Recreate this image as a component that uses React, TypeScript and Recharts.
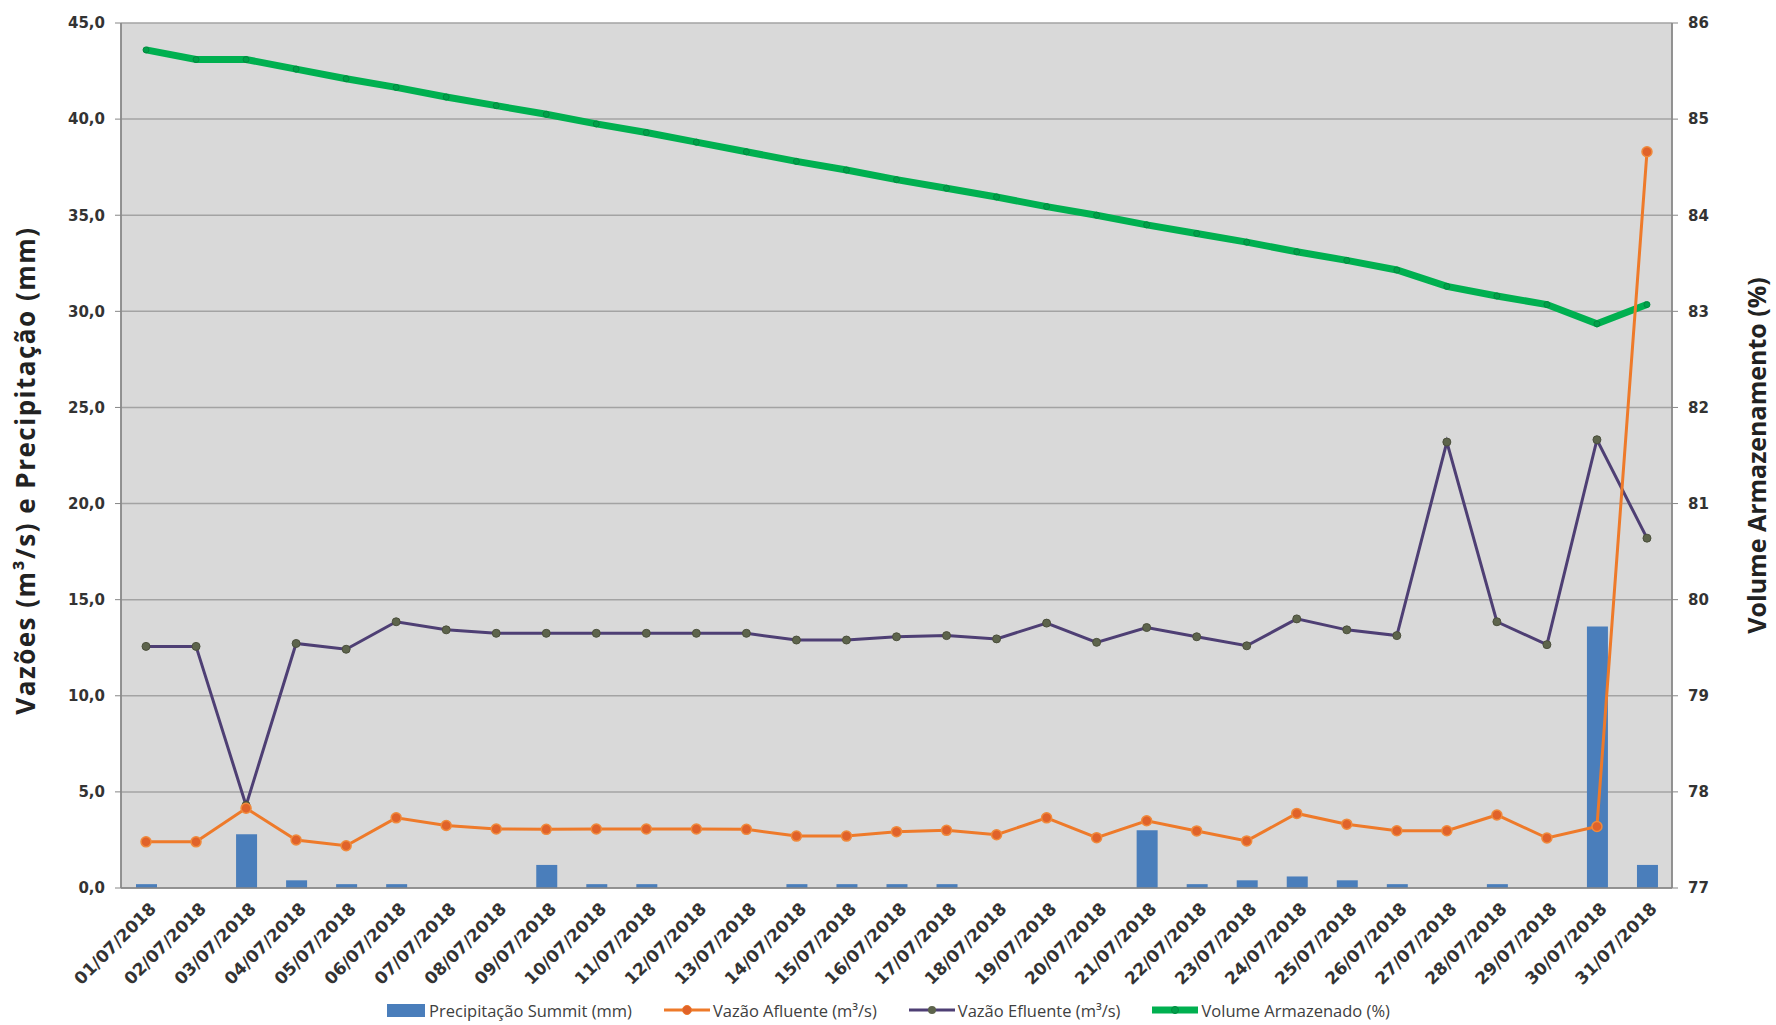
import React from "react";
import { ComposedChart, Bar, Line, XAxis, YAxis, CartesianGrid, Legend } from "recharts";

const datas = [
  "01/07/2018", "02/07/2018", "03/07/2018", "04/07/2018", "05/07/2018", "06/07/2018", "07/07/2018", "08/07/2018",
  "09/07/2018", "10/07/2018", "11/07/2018", "12/07/2018", "13/07/2018", "14/07/2018", "15/07/2018", "16/07/2018",
  "17/07/2018", "18/07/2018", "19/07/2018", "20/07/2018", "21/07/2018", "22/07/2018", "23/07/2018", "24/07/2018",
  "25/07/2018", "26/07/2018", "27/07/2018", "28/07/2018", "29/07/2018", "30/07/2018", "31/07/2018",
];
const precipitacao = [0.2, 0, 2.8, 0.4, 0.2, 0.2, 0, 0, 1.2, 0.2, 0.2, 0, 0, 0.2, 0.2, 0.2, 0.2, 0, 0, 0, 3.0, 0.2, 0.4, 0.6, 0.4, 0.2, 0, 0.2, 0, 13.6, 1.2];
const vazaoAfluente = [2.4, 2.4, 4.15, 2.5, 2.2, 3.65, 3.25, 3.07, 3.05, 3.07, 3.07, 3.07, 3.05, 2.7, 2.7, 2.93, 3.0, 2.77, 3.65, 2.62, 3.5, 2.97, 2.45, 3.88, 3.32, 2.98, 2.98, 3.8, 2.6, 3.2, 38.3];
const vazaoEfluente = [12.57, 12.57, 4.3, 12.72, 12.42, 13.85, 13.43, 13.25, 13.25, 13.25, 13.25, 13.25, 13.25, 12.9, 12.9, 13.07, 13.13, 12.96, 13.78, 12.78, 13.55, 13.07, 12.6, 14.0, 13.43, 13.13, 23.2, 13.85, 12.66, 23.32, 18.2];
const volumeArmazenado = [85.72, 85.62, 85.62, 85.52, 85.42, 85.33, 85.23, 85.14, 85.05, 84.95, 84.86, 84.76, 84.66, 84.56, 84.47, 84.37, 84.28, 84.19, 84.09, 84.0, 83.9, 83.81, 83.72, 83.62, 83.53, 83.43, 83.26, 83.16, 83.07, 82.87, 83.07];

const ticksEsq = [0, 5, 10, 15, 20, 25, 30, 35, 40, 45];
const ticksDir = [77, 78, 79, 80, 81, 82, 83, 84, 85, 86];
const divisoes = [0, 1, 2, 3, 4, 5, 6, 7, 8, 9, 10, 11, 12, 13, 14, 15, 16, 17, 18, 19, 20, 21, 22, 23, 24, 25, 26, 27, 28, 29, 30, 31];

const nomes = {
  precip: "Precipitação Summit (mm)",
  afl: "Vazão Afluente (m³/s)",
  efl: "Vazão Efluente (m³/s)",
  vol: "Volume Armazenado (%)",
};
const ordemLegenda = ["precip", "afl", "efl", "vol"];

const AZUL = "#4a7ebb";
const LARANJA = "#ee7a2a";
const ROXO = "#4e3f74";
const VERDE = "#00b050";
const CINZA_TXT = "#333333";
const FONTE_EIXO = "'DejaVu Sans', Verdana, sans-serif";
const FONTE_TIT = "'Open Sans', sans-serif";

const data = datas.map((d, i) => ({
  data: d,
  precip: precipitacao[i],
  afl: vazaoAfluente[i],
  efl: vazaoEfluente[i],
  vol: volumeArmazenado[i],
}));

function DataTick(props: any) {
  const { x, y, payload } = props;
  return (
    <g transform={`translate(${x + 11},${y + 10})`}>
      <text x={0} y={0} textAnchor="end" transform="rotate(-45)" fill={CINZA_TXT}
        style={{ fontFamily: FONTE_EIXO, fontSize: 17, fontWeight: 700 }}>
        {payload.value}
      </text>
    </g>
  );
}

function IconeLegenda({ k }: { k: string }) {
  if (k === "precip") return <svg width={40} height={16}><rect x={1} y={2} width={38} height={13} fill={AZUL} /></svg>;
  if (k === "afl") return (
    <svg width={46} height={16}>
      <line x1={0} y1={8} x2={46} y2={8} stroke={LARANJA} strokeWidth={3} />
      <circle cx={23} cy={8} r={4.5} fill="#e0622a" stroke={LARANJA} />
    </svg>
  );
  if (k === "efl") return (
    <svg width={46} height={16}>
      <line x1={0} y1={8} x2={46} y2={8} stroke={ROXO} strokeWidth={3} />
      <circle cx={23} cy={8} r={4} fill="#5d644c" />
    </svg>
  );
  return (
    <svg width={46} height={16}>
      <line x1={0} y1={8} x2={46} y2={8} stroke={VERDE} strokeWidth={7} />
      <circle cx={23} cy={8} r={3.5} fill="#00a04a" stroke="#008a3e" />
    </svg>
  );
}

function ConteudoLegenda(props: any) {
  const itens = [...(props.payload || [])].sort(
    (a: any, b: any) => ordemLegenda.indexOf(a.dataKey) - ordemLegenda.indexOf(b.dataKey)
  );
  return (
    <div style={{ height: 30, display: "flex", justifyContent: "center", alignItems: "center", gap: 32 }}>
      {itens.map((it: any) => (
        <div key={it.dataKey} style={{ display: "flex", alignItems: "center", gap: 3 }}>
          <IconeLegenda k={it.dataKey} />
          <span style={{ fontFamily: FONTE_TIT, fontSize: 16.5, color: "#404040" }}>{it.value}</span>
        </div>
      ))}
    </div>
  );
}

function TituloEsq(props: any) {
  const vb = props.viewBox;
  const cx = vb.x + 25;
  const cy = vb.y + vb.height / 2 + 15;
  return (
    <text x={cx} y={cy} transform={`rotate(-90 ${cx} ${cy})`} textAnchor="middle" dominantBaseline="central"
      fill="#222" style={{ fontFamily: FONTE_TIT, fontSize: 26, fontWeight: 700, letterSpacing: 1.5 }}>
      Vazões (m³/s) e Precipitação (mm)
    </text>
  );
}

function TituloDir(props: any) {
  const vb = props.viewBox;
  const cx = vb.x + vb.width - 20;
  const cy = vb.y + vb.height / 2;
  return (
    <text x={cx} y={cy} transform={`rotate(-90 ${cx} ${cy})`} textAnchor="middle" dominantBaseline="central"
      fill="#222" style={{ fontFamily: FONTE_TIT, fontSize: 25, fontWeight: 700 }}>
      Volume Armazenamento (%)
    </text>
  );
}

const tickEixo = { fill: CINZA_TXT, fontSize: 15, fontWeight: 700, fontFamily: FONTE_EIXO };

export default function App() {
  return (
    <div style={{ width: 1776, height: 1025, background: "#fff" }}>
      <style>{`body{margin:0}`}</style>
      <ComposedChart width={1776} height={1025} data={data} margin={{ top: 23, right: 0, bottom: 0, left: 0 }}>
        <CartesianGrid xAxisId="grade" yAxisId="esq" fill="#d9d9d9" fillOpacity={1} stroke="#a3a3a3" strokeWidth={1.5} />
        <XAxis xAxisId="grade" orientation="top" type="number" domain={[0, 31]} ticks={divisoes} interval={0}
          height={0} tick={false} tickLine={false} axisLine={false} allowDataOverflow />
        <XAxis dataKey="data" interval={0} height={107} tick={<DataTick />} tickLine={false}
          axisLine={{ stroke: "#868686", strokeWidth: 1.5 }} tickMargin={6} />
        <YAxis yAxisId="esq" domain={[0, 45]} ticks={ticksEsq} width={121} tick={tickEixo}
          tickFormatter={(v: number) => v.toFixed(1).replace(".", ",")}
          axisLine={{ stroke: "#868686", strokeWidth: 1.5 }} tickLine={{ stroke: "#868686" }} tickSize={6} tickMargin={10}
          label={{ content: <TituloEsq /> }} />
        <YAxis yAxisId="dir" orientation="right" domain={[77, 86]} ticks={ticksDir} width={104} tick={tickEixo}
          axisLine={{ stroke: "#868686", strokeWidth: 1.5 }} tickLine={{ stroke: "#868686" }} tickSize={6} tickMargin={10}
          label={{ content: <TituloDir /> }} />
        <Legend verticalAlign="bottom" align="center" height={30} content={<ConteudoLegenda />} />
        <Bar yAxisId="esq" dataKey="precip" name={nomes.precip} fill={AZUL} barSize={21} isAnimationActive={false} />
        <Line yAxisId="dir" dataKey="vol" name={nomes.vol} stroke={VERDE} strokeWidth={7}
          dot={{ r: 3, fill: "#00a04a", stroke: "#008a3e", strokeWidth: 1 }} isAnimationActive={false} />
        <Line yAxisId="esq" dataKey="efl" name={nomes.efl} stroke={ROXO} strokeWidth={3}
          dot={{ r: 4, fill: "#5d644c", stroke: "#4b4f3c", strokeWidth: 1 }} isAnimationActive={false} />
        <Line yAxisId="esq" dataKey="afl" name={nomes.afl} stroke={LARANJA} strokeWidth={3}
          dot={{ r: 5, fill: "#e0622a", stroke: "#f08a3c", strokeWidth: 1.5 }} isAnimationActive={false} />
      </ComposedChart>
    </div>
  );
}
